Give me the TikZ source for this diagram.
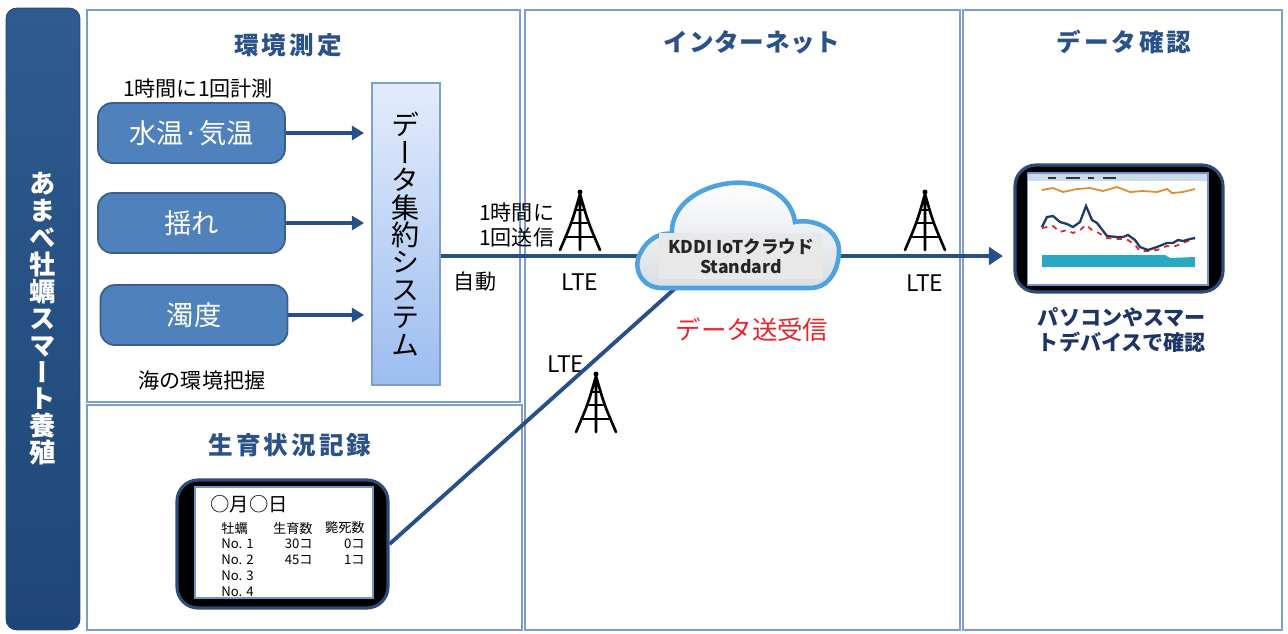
\documentclass[tikz,border=0pt]{standalone}
\usepackage{fontspec}
\setmainfont{Noto Sans CJK JP}
\usetikzlibrary{arrows.meta,positioning}

\definecolor{barblue}{HTML}{1F4677}
\definecolor{barlight}{HTML}{2E5B90}
\definecolor{frameblue}{HTML}{7E9DCA}
\definecolor{headblue}{HTML}{2B5189}
\definecolor{boxblue}{HTML}{4F81BD}
\definecolor{boxedge}{HTML}{3A5F8F}
\definecolor{linkblue}{HTML}{27508A}
\definecolor{sysedge}{HTML}{7F9FCB}
\definecolor{systop}{HTML}{E3ECFB}
\definecolor{sysbot}{HTML}{9CBDF0}
\definecolor{cloudedge}{HTML}{4EA3DF}
\definecolor{cloudfill}{HTML}{D9DEE5}
\definecolor{txred}{HTML}{E5262D}
\definecolor{phoneedge}{HTML}{2C4B78}
\definecolor{screenedge}{HTML}{7096C8}
\definecolor{navytext}{HTML}{1E3468}
\definecolor{chartnavy}{HTML}{1F3A68}
\definecolor{chartred}{HTML}{E0242C}
\definecolor{chartorange}{HTML}{E38A2C}
\definecolor{chartteal}{HTML}{2AA9C4}

\newcommand{\sz}[2]{\fontsize{#1}{#2}\selectfont}
\newcommand{\tate}{\addfontfeature{RawFeature=+vert}}

\tikzset{
  panel/.style={draw=frameblue, line width=1.2pt},
  heading/.style={text=headblue, font=\sz{14}{16}\bfseries\addfontfeature{LetterSpace=#1}},
  heading/.default=12,
  sensor/.style={draw=boxedge, fill=boxblue, line width=1pt, rounded corners=8pt,
    minimum width=3.74cm, minimum height=1.2cm, text=white, font=\sz{15.5}{17}},
  feed/.style={draw=linkblue, line width=1.8pt, -{Triangle[length=7pt,width=8pt]}, shorten >=4pt},
  link/.style={draw=linkblue, line width=2.2pt},
  note/.style={font=\sz{12}{14}},
  lte/.style={font=\sz{13}{15}},
  phone/.style={draw=phoneedge, fill=black, line width=1.8pt, rounded corners=12pt},
  screen/.style={draw=screenedge, fill=white, line width=0.6pt},
  cell/.style={font=\sz{7.5}{9}, inner sep=0pt},
  tower/.pic={
    % lattice mast with a beacon on top
    \draw[line width=1.5pt, line cap=round] (0,2) .. controls (-8,30) .. (-20,58)
      (0,2) .. controls (8,30) .. (20,58) (0,2) -- (0,58);
    \draw[line width=1.4pt] (-6,18) -- (6,18) (-10,31) -- (10,31) (-15,45) -- (15,45);
    \fill (0,0) circle[radius=2.5];
  }
}

\begin{document}
\begin{tikzpicture}[x=0.02cm,y=-0.02cm]
  \useasboundingbox (0,0) rectangle (1288,633);

  % title bar on the left
  \node[fill=barblue, top color=barlight, bottom color=barblue, draw=barblue,
    rounded corners=6pt, minimum width=1.48cm, minimum height=12.44cm,
    align=center, text=white, font=\sz{15}{15.3}\bfseries\tate] (bar) at (43,319)
    {あ\\ま\\べ\\牡\\蠣\\ス\\マ\\ー\\ト\\養\\殖};

  % the four panels
  \draw[panel] (87,10) rectangle (520,402);
  \draw[panel] (87,405) rectangle (522,630);
  \draw[panel] (525,10) rectangle (960,630);
  \draw[panel] (963,10) rectangle (1282,630);

  \node[heading] (h1) at (288,45) {環境測定};
  \node[heading=3] (h3) at (752,42) {インターネット};
  \node[heading] (h2) at (290,445) {生育状況記録};
  \node[heading] (h4) at (1124,42) {データ確認};

  % sensors and the collector
  \node[note] (cycle) at (198,89) {1時間に1回計測};
  \node[sensor] (s1) at (191.5,133) {水温·気温};
  \node[sensor] (s2) at (191.5,223) {揺れ};
  \node[sensor] (s3) at (194,315) {濁度};
  \node[note] (sea) at (202,380) {海の環境把握};

  \node[draw=sysedge, line width=1pt, top color=systop, bottom color=sysbot,
    minimum width=1.36cm, minimum height=6.04cm, align=center,
    font=\sz{16}{15.6}\tate] (sys) at (406,234)
    {デ\\ー\\タ\\集\\約\\シ\\ス\\テ\\ム};

  \draw[feed] (s1) -- (s1 -| sys.west);
  \draw[feed] (s2) -- (s2 -| sys.west);
  \draw[feed] (s3) -- (s3 -| sys.west);

  % network links
  \coordinate (hub) at (741,256);
  \coordinate (cloudfoot) at (690,275);
  \draw[link] (sys.east |- hub) -- (hub);
  \draw[link] (hub) -- (800,256);

  \node[note, align=left, anchor=west] (rate) at (473,225) {1時間に\\1回送信};
  \node[note] (auto) at (475,282) {自動};

  \pic (tw1) at (580,192) {tower};
  \pic (tw2) at (925,192) {tower};
  \pic (tw3) at (596,374) {tower};
  \node[lte] (lte1) at (580,282) {LTE};
  \node[lte] (lte2) at (925,283) {LTE};
  \node[lte] (lte3) at (566,364) {LTE};

  % field log on a tablet
  \node[phone, minimum width=4.22cm, minimum height=2.56cm] (pad) at (282.5,544) {};
  \node[screen, minimum width=3.56cm, minimum height=2.22cm] (padscr) at (284,542.5) {};
  \node[anchor=west, font=\sz{11}{13}, inner sep=0pt] (date) at (210,504) {○月○日};
  \foreach \r/\a/\b/\c in {0/牡蠣/生育数/斃死数, 1/No. 1/30コ/0コ, 2/No. 2/45コ/1コ,
      3/No. 3//, 4/No. 4//}{
    \node[cell, anchor=west] (no\r) at (221,{528+16*\r}) {\a};
    \node[cell, anchor=east] (live\r) at (313,{528+16*\r}) {\b};
    \node[cell, anchor=east] (dead\r) at (365,{528+16*\r}) {\c};
  }
  \draw[link] (pad.east) -- (cloudfoot);

  % monitor with the chart
  \node[phone, minimum width=4.16cm, minimum height=2.54cm] (mon) at (1119,228.5) {};
  \node[screen, minimum width=3.62cm, minimum height=2.24cm] (monscr) at (1117.5,229) {};
  \draw[link, -{Triangle[length=8pt,width=10pt]}, shorten >=6pt] (hub) -- (mon.west |- hub);

  \fill[screenedge!35] (1028,174) rectangle (1207,181);
  \draw[line width=1.2pt, black!80] (1048,178) -- (1056,178) (1066,178) -- (1080,178)
    (1088,178) -- (1094,178) (1103,178) -- (1116,178);
  \fill[chartteal] (1042,255) -- (1165,255) -- (1170,258) -- (1195,257)
    -- (1195,267) -- (1042,267) -- cycle;
  \draw[chartorange, line width=1pt] plot coordinates {(1042,190) (1053,188) (1063,192)
    (1077,189) (1090,188) (1103,191) (1117,187) (1130,192) (1143,191) (1157,192)
    (1167,189) (1172,193) (1183,192) (1195,189)};
  \draw[chartred, line width=1pt, dashed] plot coordinates {(1042,228) (1047,227)
    (1053,226) (1060,232) (1067,230) (1073,233) (1080,230) (1086,225) (1092,230)
    (1097,232) (1107,238) (1117,239) (1123,239) (1128,240) (1135,245) (1140,251)
    (1148,251) (1157,250) (1167,246) (1173,247) (1178,245) (1183,243) (1190,240) (1195,238)};
  \draw[chartnavy, line width=1.3pt] plot coordinates {(1042,227) (1047,217) (1053,216)
    (1060,222) (1067,224) (1073,227) (1080,222) (1086,206) (1092,220) (1097,223)
    (1107,236) (1117,237) (1123,237) (1128,235) (1135,240) (1140,247) (1148,250)
    (1157,247) (1167,243) (1173,243) (1178,240) (1183,241) (1190,239) (1195,238)};

  \node[font=\sz{12}{14}\bfseries, text=navytext, align=center] (view) at (1122,330)
    {パソコンやスマー\\トデバイスで確認};

  % cloud service
  \shadedraw[top color=white, bottom color=cloudfill, draw=cloudedge, line width=2.6pt]
    (662,288) .. controls (640,288) and (632,266) .. (641,252)
    .. controls (648,238) and (662,232) .. (672,234)
    .. controls (670,200) and (712,180) .. (745,183)
    .. controls (772,185) and (792,200) .. (795,222)
    .. controls (815,218) and (840,230) .. (839,252)
    .. controls (838,272) and (828,288) .. (810,288) -- cycle;
  \node[fill=black!9, minimum width=3.28cm, minimum height=0.9cm, align=center,
    font=\sz{10}{11.5}\bfseries, text=black!85] (kddi) at (hub) {KDDI IoTクラウド\\Standard};
  \node[text=txred, font=\sz{14.5}{16}] (trx) at (752,330) {データ送受信};
\end{tikzpicture}
\end{document}
